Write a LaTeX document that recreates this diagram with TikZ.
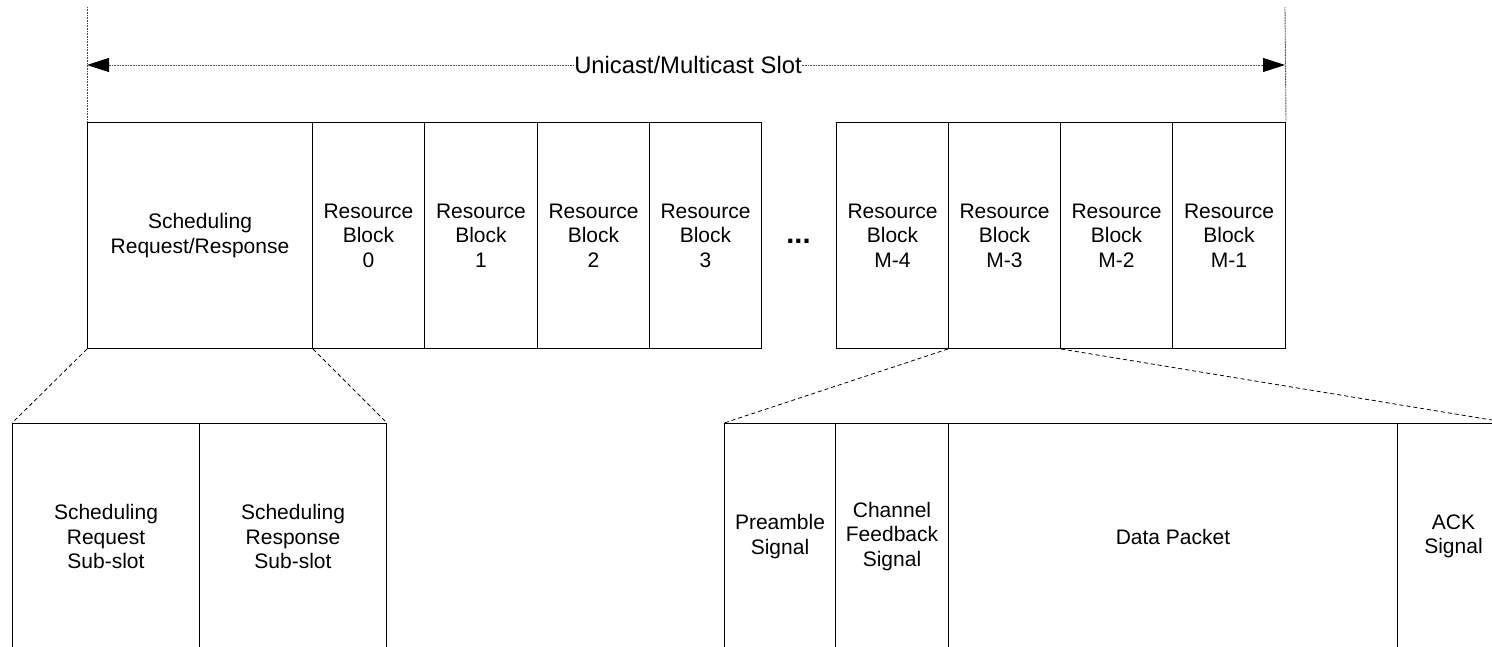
\documentclass[tikz,border=0pt]{standalone}
\usepackage{fontspec}
\setmainfont{Liberation Sans}
\usetikzlibrary{arrows.meta}
\tikzset{
  blk/.style={draw=black, line width=1pt, rectangle, inner sep=0pt, anchor=north west,
    minimum height=226pt, align=center, font=\fontsize{21}{24.5}\selectfont},
  zoomline/.style={draw=black, line width=0.8pt, dash pattern=on 4pt off 3pt},
  guide/.style={draw=black!70, line width=0.9pt, dash pattern=on 1pt off 0.6pt},
  spantip/.style={Triangle[length=22pt,width=14pt,color=black,fill=black]},
  span/.style={guide, {Triangle[length=22pt,width=14pt,color=black,fill=black]}-{Triangle[length=22pt,width=14pt,color=black,fill=black]}},
}
\begin{document}
\begin{tikzpicture}[x=1pt,y=-1pt]
\useasboundingbox (0,0) rectangle (1492,647);
\clip (0,0) rectangle (1492,647);

% slot structure
\node[blk, minimum width=225pt] (sched) at (87,122) {Scheduling\\Request/Response};
\node[blk, minimum width=112pt] (rb0) at (312,122) {Resource\\Block\\0};
\node[blk, minimum width=113pt] (rb1) at (424,122) {Resource\\Block\\1};
\node[blk, minimum width=112pt] (rb2) at (537,122) {Resource\\Block\\2};
\node[blk, minimum width=112pt] (rb3) at (649,122) {Resource\\Block\\3};
\node[font=\fontsize{29}{30}\selectfont\bfseries, anchor=base, inner sep=0pt] (dots) at (798.5,244) {...};
\node[blk, minimum width=112pt] (rbm4) at (836,122) {Resource\\Block\\M-4};
\node[blk, minimum width=112pt] (rbm3) at (948,122) {Resource\\Block\\M-3};
\node[blk, minimum width=112pt] (rbm2) at (1060,122) {Resource\\Block\\M-2};
\node[blk, minimum width=113pt] (rbm1) at (1172,122) {Resource\\Block\\M-1};

% slot span
\coordinate (topL) at (87,7);
\coordinate (topR) at (1285,7);
\coordinate (arrL) at (87,65);
\coordinate (arrR) at (1285,65);
\draw[guide] (topL) -- (sched.north west);
\draw[guide] (topR) -- (rbm1.north east);
\draw[span] (arrL) -- node[fill=white, inner sep=0.5pt, font=\fontsize{23.8}{28}\selectfont, xshift=2pt] (slotlbl) {Unicast/Multicast Slot} (arrR);

% scheduling sub-slots
\node[blk, minimum width=187pt] (req) at (12,423) {Scheduling\\Request\\Sub-slot};
\node[blk, minimum width=187pt] (resp) at (199,423) {Scheduling\\Response\\Sub-slot};
\draw[zoomline] (sched.south west) -- (req.north west);
\draw[zoomline] (sched.south east) -- (resp.north east);

% resource block contents
\node[blk, minimum width=111pt] (pre) at (724,423) {Preamble\\Signal};
\node[blk, minimum width=113pt] (cfb) at (835,423) {Channel\\Feedback\\Signal};
\node[blk, minimum width=449pt] (data) at (948,423) {Data Packet};
\node[blk, minimum width=112pt] (ack) at (1397,423) {ACK\\Signal};
\draw[zoomline] (rbm3.south west) -- (pre.north west);
\draw[zoomline] (rbm3.south east) -- (ack.north east);
\end{tikzpicture}
\end{document}
